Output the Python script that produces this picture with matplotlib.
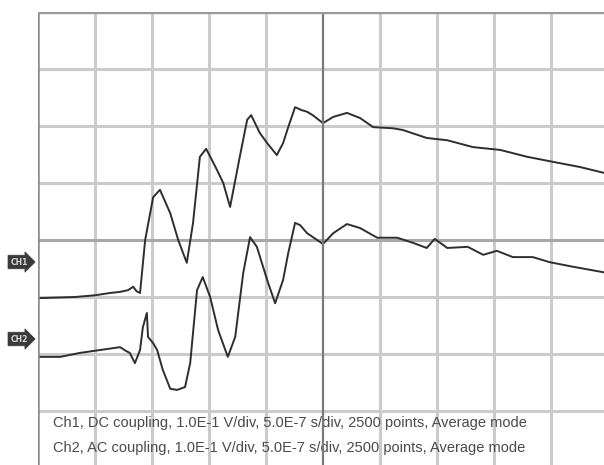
import matplotlib
matplotlib.use("Agg")
import matplotlib.pyplot as plt

# time axis in divisions (0.5 us/div), amplitude in divisions (0.1 V/div), 0 = screen centre
ch1_t = [0.00, 0.65, 1.00, 1.26, 1.44, 1.58, 1.67, 1.73, 1.79, 1.88, 2.02, 2.14, 2.32, 2.46,
         2.61, 2.72, 2.84, 2.95, 3.14, 3.25, 3.37, 3.54, 3.67, 3.74, 3.89, 4.02, 4.19,
         4.30, 4.39, 4.51, 4.62, 4.72, 4.82, 5.00, 5.18, 5.42, 5.65, 5.88, 6.23, 6.40,
         6.82, 7.18, 7.63, 8.11, 8.58, 9.04, 9.51, 10.0]
ch1_v = [-1.02, -1.00, -0.97, -0.93, -0.91, -0.88, -0.82, -0.90, -0.93, 0.00, 0.75, 0.88,
         0.47, 0.00, -0.40, 0.30, 1.46, 1.60, 1.23, 1.00, 0.58, 1.46, 2.11, 2.19, 1.88,
         1.70, 1.49, 1.70, 1.98, 2.33, 2.28, 2.25, 2.19, 2.05, 2.16, 2.23, 2.14, 1.98,
         1.96, 1.93, 1.79, 1.75, 1.63, 1.58, 1.46, 1.37, 1.28, 1.16]

ch2_t = [0.00, 0.39, 0.74, 1.09, 1.44, 1.55, 1.61, 1.70, 1.79, 1.84, 1.91, 1.93, 2.02,
         2.09, 2.19, 2.32, 2.44, 2.58, 2.67, 2.79, 2.89, 3.02, 3.16, 3.33, 3.46, 3.60,
         3.72, 3.84, 4.02, 4.16, 4.30, 4.39, 4.51, 4.60, 4.72, 5.00, 5.18, 5.42, 5.65,
         5.95, 6.30, 6.58, 6.82, 6.96, 7.18, 7.54, 7.81, 8.05, 8.33, 8.68, 8.98, 9.39, 10.0]
ch2_v = [-2.05, -2.05, -1.98, -1.93, -1.88, -1.95, -1.98, -2.16, -1.93, -1.53, -1.28,
         -1.70, -1.81, -1.93, -2.28, -2.61, -2.63, -2.58, -2.16, -0.88, -0.65, -1.00,
         -1.58, -2.05, -1.70, -0.58, 0.05, -0.12, -0.70, -1.11, -0.70, -0.23, 0.30, 0.26,
         0.12, -0.07, 0.12, 0.28, 0.21, 0.04, 0.04, -0.05, -0.14, 0.02, -0.14, -0.12,
         -0.26, -0.19, -0.30, -0.30, -0.39, -0.47, -0.58]

info_lines = ["Ch1, DC coupling, 1.0E-1 V/div, 5.0E-7 s/div, 2500 points, Average mode",
              "Ch2, AC coupling, 1.0E-1 V/div, 5.0E-7 s/div, 2500 points, Average mode"]
markers = ["CH1", "CH2"]

W, H = 604, 465
fig = plt.figure(figsize=(W / 100, H / 100), dpi=100)
fig.patch.set_facecolor("white")
x0, y0, pw, ph = 38, 12, 570, 456
ax = fig.add_axes([x0 / W, 1 - (y0 + ph) / H, pw / W, ph / H])
ax.set_xlim(0, 10)
ax.set_ylim(-4, 4)
ax.set_axis_off()

for gx in range(1, 10):
    if gx == 5:
        continue
    ax.axvline(gx, color="#cbcbcb", lw=2.2, zorder=1)
for gy in range(-3, 4):
    if gy == 0:
        continue
    ax.axhline(gy, color="#cbcbcb", lw=2.2, zorder=1)
ax.axhline(0, color="#a8a8a8", lw=2.2, zorder=1.5)
ax.axvline(5, color="#7a7a7a", lw=1.6, zorder=4)
ax.axvline(0, color="#8a8a8a", lw=1.8, zorder=4)
ax.axhline(4, color="#9a9a9a", lw=2.4, zorder=4)

ax.plot(ch1_t, ch1_v, color="#2e2e2e", lw=1.4, zorder=3)
ax.plot(ch2_t, ch2_v, color="#2e2e2e", lw=1.4, zorder=3)

for i, line in enumerate(info_lines):
    ax.text(0.26, -3.21 - 0.44 * i, line, fontsize=10.5, color="#4a4a4a",
            family="Liberation Sans", va="center", ha="left", zorder=2)

for name, ypix in zip(markers, [262, 339]):
    fig.text(19 / W, 1 - ypix / H, name, fontsize=5.5, color="#d8d8d8", ha="center",
             va="center", family="DejaVu Sans", fontweight="bold",
             bbox=dict(boxstyle="rarrow,pad=0.3", fc="#3a3a3a", ec="#3a3a3a", lw=0.5))

fig.savefig("out.png", dpi=100)
